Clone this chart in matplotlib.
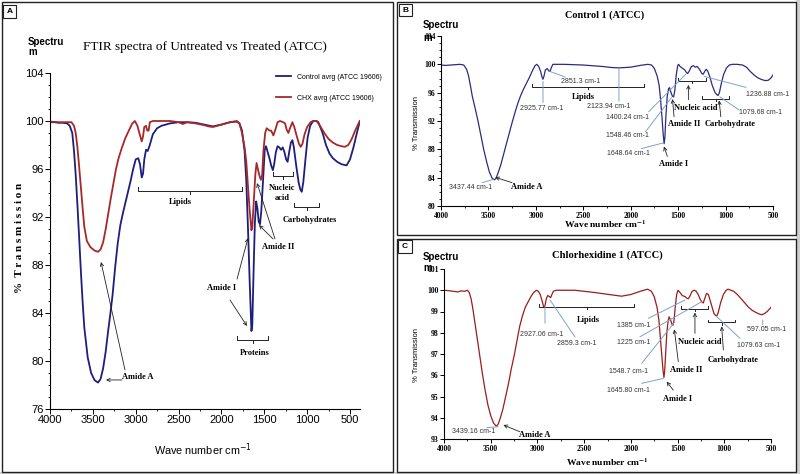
import matplotlib
matplotlib.use('Agg')
import matplotlib.pyplot as plt
from matplotlib.patches import Rectangle
from matplotlib.ticker import MultipleLocator
from matplotlib import font_manager

# ---------------- data ----------------
wn_a_ctrl = [4000, 3950, 3900, 3850, 3800, 3770, 3740, 3720, 3700, 3680, 3660, 3640, 3620, 3600,
             3560, 3520, 3480, 3440, 3410, 3380, 3350, 3320, 3300, 3270, 3240, 3210, 3180, 3150,
             3100, 3060, 3030, 3000, 2970, 2950, 2930, 2915, 2900, 2880, 2860, 2840, 2800, 2750,
             2700, 2600, 2500, 2400, 2300, 2200, 2100, 2000, 1900, 1820, 1790, 1760, 1730, 1710,
             1690, 1670, 1650, 1640, 1625, 1610, 1595, 1580, 1565, 1550, 1535, 1515, 1495, 1480,
             1460, 1440, 1420, 1400, 1385, 1365, 1345, 1325, 1305, 1285, 1265, 1245, 1228, 1210,
             1190, 1172, 1155, 1130, 1100, 1080, 1063, 1045, 1020, 995, 965, 930, 890, 870, 820,
             780, 740, 700, 650, 600, 540, 500, 460, 420, 385]
tr_a_ctrl = [99.9, 99.9, 99.85, 99.85, 99.8, 99.6, 99.0, 97.5, 95.5, 93.0, 90.3, 87.5, 85.0, 82.8,
             80.3, 79.0, 78.4, 78.2, 78.5, 79.4, 80.8, 82.6, 83.7, 85.5, 87.8, 89.8, 91.3, 92.3,
             93.8, 95.0, 96.0, 96.8, 96.9, 96.4, 95.3, 95.6, 96.8, 97.6, 97.5, 97.9, 98.9, 99.4,
             99.6, 99.8, 99.9, 99.9, 99.85, 99.7, 99.55, 99.7, 99.9, 99.95, 99.8, 99.2, 97.5, 95.0,
             91.0, 86.5, 82.5, 83.0, 87.5, 91.5, 93.3, 92.7, 91.6, 91.4, 92.5, 95.0, 97.6, 97.9,
             97.4, 96.9, 96.3, 95.9, 96.4, 97.4, 97.9, 97.8, 97.6, 97.8, 97.4, 96.8, 96.6, 97.4,
             98.2, 98.4, 97.8, 96.4, 94.9, 94.3, 94.1, 94.9, 96.8, 98.6, 99.6, 100.0, 100.0, 99.9, 99.0,
             98.0, 97.3, 96.9, 96.6, 96.4, 96.3, 96.8, 97.8, 99.0, 100.0]

wn_a_chx = [4000, 3900, 3800, 3750, 3720, 3700, 3680, 3660, 3640, 3620, 3600, 3570, 3530, 3480,
            3440, 3410, 3380, 3350, 3320, 3290, 3260, 3230, 3200, 3160, 3120, 3080, 3040, 3010,
            2980, 2950, 2930, 2915, 2900, 2880, 2865, 2850, 2835, 2800, 2600, 2500, 2450, 2400,
            2300, 2200, 2150, 2100, 2000, 1900, 1820, 1790, 1760, 1730, 1710, 1690, 1670, 1650,
            1640, 1625, 1605, 1590, 1575, 1555, 1540, 1525, 1510, 1490, 1472, 1440, 1420, 1394,
            1370, 1345, 1317, 1280, 1258, 1240, 1219, 1200, 1172, 1150, 1120, 1095, 1075, 1055,
            1030, 1000, 960, 930, 890, 850, 800, 750, 700, 650, 600, 560, 520, 480, 440, 400, 385]
tr_a_chx = [99.95, 99.9, 99.9, 99.9, 99.6, 99.0, 97.8, 96.2, 94.5, 92.8, 91.2, 90.0, 89.5, 89.2,
            89.1, 89.3, 89.9, 91.0, 92.3, 93.6, 94.8, 96.0, 96.9, 97.8, 98.6, 99.2, 99.8, 100.0,
            99.6, 98.8, 98.3, 98.7, 99.5, 99.6, 99.2, 99.2, 99.9, 100.0, 100.0, 99.9, 99.75, 99.9,
            99.8, 99.65, 99.55, 99.5, 99.7, 99.9, 100.0, 99.8, 99.0, 97.8, 96.6, 94.5, 92.5, 90.9,
            91.2, 93.0, 95.5, 96.5, 96.0, 95.4, 95.1, 95.5, 97.5, 99.0, 99.4, 99.2, 99.2, 98.8,
            99.3, 99.9, 100.0, 99.9, 99.8, 99.3, 99.0, 99.4, 99.9, 99.5, 98.7, 98.1, 97.85, 98.1,
            98.9, 99.5, 99.9, 100.0, 100.0, 99.6, 99.0, 98.5, 98.2, 98.0, 97.9, 97.85, 98.0, 98.5, 99.2, 99.8, 100.0]

wn_b = [4000, 3950, 3900, 3850, 3800, 3760, 3730, 3710, 3690, 3670, 3640, 3610, 3580, 3550, 3520,
        3490, 3460, 3437, 3420, 3400, 3370, 3340, 3310, 3280, 3250, 3220, 3190, 3160, 3130, 3100,
        3070, 3040, 3010, 2990, 2970, 2950, 2935, 2925, 2915, 2900, 2880, 2865, 2851, 2835, 2820,
        2700, 2500, 2300, 2200, 2124, 2000, 1900, 1820, 1780, 1750, 1720, 1700, 1685, 1670, 1660,
        1648, 1640, 1630, 1615, 1600, 1590, 1575, 1560, 1548, 1535, 1520, 1505, 1495, 1480, 1460,
        1430, 1410, 1400, 1385, 1360, 1340, 1320, 1300, 1275, 1250, 1236, 1220, 1205, 1190, 1165,
        1140, 1110, 1090, 1079, 1065, 1045, 1020, 990, 960, 930, 880, 820, 780, 740, 700, 660,
        620, 580, 550, 520, 500]
tr_b = [99.9, 99.85, 99.9, 99.95, 100.0, 99.9, 99.3, 98.4, 97.0, 95.5, 93.8, 92.0, 90.0, 88.0, 86.3,
        84.8, 83.9, 83.7, 83.9, 84.6, 85.8, 87.3, 88.8, 90.3, 91.8, 93.2, 94.5, 95.6, 96.5, 97.3,
        98.1, 99.0, 99.8, 100.0, 99.7, 99.0, 98.2, 97.9, 98.3, 99.2, 99.4, 99.1, 99.0, 99.6, 100.0,
        100.0, 99.9, 99.7, 99.55, 99.5, 99.6, 99.85, 100.0, 99.9, 99.4, 98.3, 97.0, 95.0, 92.5, 90.5,
        88.8, 89.6, 92.5, 95.5, 96.6, 96.7, 96.0, 95.5, 95.4, 96.3, 98.5, 99.8, 100.0, 99.7, 99.5,
        99.2, 98.8, 98.7, 99.0, 99.7, 99.8, 99.6, 99.7, 99.3, 98.7, 98.6, 99.0, 99.3, 99.1, 98.2,
        97.0, 96.0, 95.7, 95.6, 96.0, 97.3, 98.6, 99.5, 99.9, 100.0, 100.0, 99.9, 99.6, 99.0, 98.5, 98.1,
        97.85, 97.7, 97.75, 98.1, 98.5]

wn_c = [4000, 3950, 3900, 3850, 3820, 3780, 3750, 3730, 3710, 3690, 3670, 3650, 3630, 3610, 3590,
        3560, 3530, 3500, 3470, 3440, 3420, 3400, 3370, 3340, 3310, 3280, 3250, 3220, 3190, 3160,
        3130, 3100, 3070, 3040, 3010, 2990, 2970, 2950, 2935, 2927, 2918, 2905, 2890, 2870, 2859,
        2845, 2830, 2800, 2600, 2400, 2200, 2100, 2000, 1900, 1820, 1780, 1750, 1720, 1700, 1685,
        1670, 1655, 1646, 1638, 1628, 1615, 1600, 1590, 1575, 1560, 1549, 1538, 1525, 1510, 1495,
        1475, 1450, 1420, 1400, 1385, 1370, 1345, 1320, 1300, 1280, 1255, 1240, 1225, 1210, 1190,
        1170, 1150, 1130, 1110, 1090, 1079, 1065, 1040, 1010, 980, 960, 930, 900, 860, 820, 780,
        740, 700, 660, 620, 597, 570, 540, 520, 500]
tr_c = [100.0, 99.98, 99.95, 99.92, 99.97, 99.95, 100.0, 99.9, 99.6, 99.1, 98.5, 97.9, 97.3, 96.7, 96.1,
        95.3, 94.6, 94.1, 93.75, 93.6, 93.7, 93.95, 94.4, 95.0, 95.6, 96.3, 96.9, 97.6, 98.3, 98.8,
        99.2, 99.45, 99.7, 99.9, 100.0, 99.95, 99.8, 99.5, 99.25, 99.2, 99.3, 99.6, 99.75, 99.7, 99.65,
        99.8, 99.95, 100.0, 100.0, 99.9, 99.78, 99.72, 99.8, 99.95, 100.05, 99.95, 99.7, 99.2, 98.6, 97.8,
        97.0, 96.2, 95.9, 96.2, 97.0, 98.0, 98.6, 98.75, 98.6, 98.4, 98.35, 98.6, 99.2, 99.8, 100.0,
        99.9, 99.75, 99.7, 99.62, 99.6, 99.7, 99.95, 100.0, 99.95, 99.8, 99.55, 99.45, 99.4, 99.6, 99.85,
        99.8, 99.5, 99.2, 98.9, 98.8, 98.8, 98.95, 99.4, 99.8, 100.0, 100.05, 100.0, 99.95, 99.8, 99.6, 99.4,
        99.2, 99.05, 98.95, 98.87, 98.85, 98.9, 99.0, 99.1, 99.2]

legend_labels = ['Control avrg (ATCC 19606)', 'CHX avrg (ATCC 19606)']

# annotations: (text, x, y)
labels_a = [('Lipids', 2483, 93.25), ('Nucleic\nacid', 1293, 94.0), ('Carbohydrates', 967, 91.75),
            ('Proteins', 1608, 80.67), ('Amide II', 1340, 89.5), ('Amide I', 1993, 86.08),
            ('Amide A', 2973, 78.67)]
brackets_a = [(2973, 1760, 94.17), (1398, 1165, 95.42), (1153, 862, 92.83), (1818, 1457, 81.75)]
arrows_a = [((1398, 90.17), (1562, 91.33)), ((1375, 90.17), (1585, 94.83)),
            ((1818, 86.83), (1690, 90.25)), ((1900, 85.08), (1702, 82.92)),
            ((3160, 78.42), (3347, 78.42)), ((3125, 79.25), (3405, 88.25))]

nums_b = [('2851.3 cm-1', 2530, 97.6), ('2925.77 cm-1', 2935, 93.8), ('2123.94 cm-1', 2231, 94.1),
          ('1400.24 cm-1', 2037, 92.5), ('1548.46 cm-1', 2037, 89.9), ('1648.64 cm-1', 2019, 87.4),
          ('1079.68 cm-1', 630, 93.2), ('1236.88 cm-1', 560, 95.8), ('3437.44 cm-1', 3693, 82.6)]
labels_b = [('Lipids', 2495, 95.4), ('Amide I', 1550, 85.9), ('Amide II', 1438, 91.6),
            ('Nucleic acid', 1314, 93.8), ('Carbohydrate', 952, 91.6), ('Amide A', 3094, 82.7)]
leaders_b = [((2851, 99.0), (2690, 98.2)), ((2925, 97.6), (2925, 94.6)), ((2124, 99.3), (2124, 94.8)),
             ((1811, 93.3), (1420, 98.6)), ((1843, 90.5), (1570, 95.3)), ((1888, 88.1), (1660, 88.9)),
             ((857, 93.55), (1060, 95.4)), ((785, 96.75), (1226, 98.3)), ((3563, 83.3), (3450, 83.75))]
arrows_b = [((1614, 87.0), (1650, 88.4)), ((1543, 92.6), (1560, 95.1)), ((1392, 95.0), (1392, 97.1)),
            ((1050, 92.6), (1068, 94.9)), ((3252, 83.3), (3429, 84.05))]
brackets_b = [(3041, 1861, 96.85), (1497, 1208, 97.7), (1244, 963, 95.1)]

nums_c = [('2927.06 cm-1', 2955, 97.94), ('2859.3 cm-1', 2580, 97.5), ('1385 cm-1', 1974, 98.36),
          ('1225 cm-1', 1974, 97.53), ('1548.7 cm-1', 2027, 96.17), ('1645.80 cm-1', 2027, 95.3),
          ('1079.63 cm-1', 636, 97.42), ('597.05 cm-1', 546, 98.13), ('3439.16 cm-1', 3686, 93.34)]
labels_c = [('Lipids', 2455, 98.6), ('Amide I', 1499, 94.9), ('Amide II', 1403, 96.25),
            ('Nucleic acid', 1260, 97.58), ('Carbohydrate', 903, 96.7), ('Amide A', 3026, 93.19)]
leaders_c = [((2919, 99.2), (2919, 98.45)), ((2598, 97.8), (2865, 99.54)), ((1813, 98.68), (1421, 99.54)),
             ((1902, 97.81), (1242, 99.46)), ((1884, 96.56), (1528, 98.52)), ((1884, 95.62), (1652, 95.85)),
             ((832, 97.74), (1081, 98.76)), ((589, 98.6), (589, 98.37)), ((3543, 93.53), (3419, 93.58))]
arrows_c = [((1546, 95.3), (1617, 95.7)), ((1492, 96.64), (1535, 98.16)), ((1314, 97.97), (1314, 98.95)),
            ((1010, 97.19), (1028, 98.3)), ((3187, 93.34), (3365, 93.66))]
brackets_c = [(2983, 1963, 99.23), (1463, 1171, 99.12), (1171, 885, 98.49)]

# ---------------- styles ----------------
BLUE_A = '#1e1e7c'
RED_A = '#a82828'
BLUE_B = '#2c2c7e'
RED_C = '#9c1c1c'
LEAD = '#7da2cc'
SERIF = 'Liberation Serif'
SANS = 'Liberation Sans'
_names = {f.name for f in font_manager.fontManager.ttflist}
HAS_NARROW = 'Liberation Sans Narrow' in _names
NARROW = 'Liberation Sans Narrow' if HAS_NARROW else SANS

W, H = 800, 474
fig = plt.figure(figsize=(8, 4.74), dpi=100)


def ax_px(x0, y0, x1, y1):
    return fig.add_axes([x0 / W, 1 - y1 / H, (x1 - x0) / W, (y1 - y0) / H])


def ftxt(x, y, s, **kw):
    return fig.text(x / W, 1 - y / H, s, **kw)


def frame(x0, y0, x1, y1, lw=1.0, ec='#222222'):
    fig.patches.append(Rectangle((x0 / W, 1 - y1 / H), (x1 - x0) / W, (y1 - y0) / H,
                                 transform=fig.transFigure, fill=False, ec=ec, lw=lw))


def style_axes(ax, tickfont, tsize, tweight):
    for s in ('top', 'right'):
        ax.spines[s].set_visible(False)
    for s in ('left', 'bottom'):
        ax.spines[s].set_linewidth(0.8)
    ax.tick_params(which='major', direction='out', length=3, width=0.7, pad=1)
    ax.tick_params(which='minor', direction='out', length=1.6, width=0.6)
    for lab in ax.get_xticklabels() + ax.get_yticklabels():
        lab.set_fontfamily(tickfont)
        lab.set_fontsize(tsize)
        lab.set_fontweight(tweight)


def draw_brackets(ax, brs, h, color='#222222'):
    for x1, x2, y in brs:
        xm = (x1 + x2) / 2
        ax.plot([x1, x1, x2, x2], [y + h, y, y, y + h], color=color, lw=0.7, clip_on=False)
        ax.plot([xm, xm], [y, y - h * 0.8], color=color, lw=0.7, clip_on=False)


def draw_arrows(ax, arrs):
    for tail, head in arrs:
        ax.annotate('', xy=head, xytext=tail,
                    arrowprops=dict(arrowstyle='->', lw=0.6, color='#222222',
                                    shrinkA=0, shrinkB=0, mutation_scale=6))


def draw_leaders(ax, leads):
    for p, q in leads:
        ax.annotate('', xy=q, xytext=p,
                    arrowprops=dict(arrowstyle='-', lw=0.7, color=LEAD, shrinkA=0, shrinkB=0))


# ---------------- frames ----------------
fig.patches.append(Rectangle((796 / W, 0), 4 / W, 1, transform=fig.transFigure, color='#cfcfcf', lw=0))
fig.patches.append(Rectangle((0, 0), 1, 2 / H, transform=fig.transFigure, color='#cfcfcf', lw=0))
frame(1.5, 2, 393, 472)
frame(397, 2, 796, 235)
frame(397, 239, 796, 472)
frame(3, 5, 16, 18, lw=0.8)
frame(399, 4, 412, 16, lw=0.8)
frame(398, 240, 412, 253, lw=0.8)
ftxt(9.5, 11.5, 'A', ha='center', va='center', fontsize=6, weight='bold', family=SANS)
ftxt(405.5, 10, 'B', ha='center', va='center', fontsize=6, weight='bold', family=SANS)
ftxt(405, 246.5, 'C', ha='center', va='center', fontsize=6, weight='bold', family=SANS)

# ---------------- panel A ----------------
axA = ax_px(50, 73, 360.3, 409)
axA.plot(wn_a_ctrl, tr_a_ctrl, color=BLUE_A, lw=1.3, label=legend_labels[0])
axA.plot(wn_a_chx, tr_a_chx, color=RED_A, lw=1.3, label=legend_labels[1])
axA.set_xlim(4000, 380)
axA.set_ylim(76, 104)
axA.xaxis.set_major_locator(MultipleLocator(500))
axA.xaxis.set_minor_locator(MultipleLocator(250))
axA.yaxis.set_major_locator(MultipleLocator(4))
axA.yaxis.set_minor_locator(MultipleLocator(1))
style_axes(axA, NARROW, 8.5 if HAS_NARROW else 8, 'normal')
axA.tick_params(which='major', length=3.5)
leg_size = 6.2 if HAS_NARROW else 5.0
leg = axA.legend(loc='upper left', bbox_to_anchor=(0.728, 0.998), frameon=False,
                 prop={'family': NARROW, 'size': leg_size}, handlelength=15 / (leg_size * 1.389),
                 handletextpad=6 / (leg_size * 1.389),
                 labelspacing=(21 - leg_size * 1.389) / (leg_size * 1.389), borderpad=0, borderaxespad=0)
for t in labels_a:
    axA.text(t[1], t[2], t[0], ha='center', va='center', family=SERIF, weight='bold',
             fontsize=6, linespacing=1.25)
draw_brackets(axA, brackets_a, 0.33)
draw_arrows(axA, arrows_a)

ftxt(205, 47, 'FTIR spectra of Untreated vs Treated (ATCC)', ha='center', va='center',
     family=SERIF, fontsize=9.5)
ftxt(28, 42, 'Spectru', ha='left', va='center', family=SANS, weight='bold', fontsize=7)
ftxt(28, 52, 'm', ha='left', va='center', family=SANS, weight='bold', fontsize=7)
ftxt(20, 238, '%  T r a n s m i s s i o n', ha='center', va='center', rotation=90,
     family=SERIF, weight='bold', fontsize=8)
ftxt(203, 450, r'Wave number cm$^{-1}$', ha='center', va='center', family=NARROW,
     fontsize=9.5 if HAS_NARROW else 7.8, math_fontfamily='dejavusans')

# ---------------- panel B ----------------
axB = ax_px(441, 36, 773, 206)
axB.plot(wn_b, tr_b, color=BLUE_B, lw=0.9)
axB.set_xlim(4000, 500)
axB.set_ylim(80, 104)
axB.xaxis.set_major_locator(MultipleLocator(500))
axB.xaxis.set_minor_locator(MultipleLocator(250))
axB.yaxis.set_major_locator(MultipleLocator(4))
axB.yaxis.set_minor_locator(MultipleLocator(1))
style_axes(axB, SERIF, 5.5, 'bold')
draw_leaders(axB, leaders_b)
for t in nums_b:
    axB.text(t[1], t[2], t[0], ha='center', va='center', family=SANS, fontsize=5, color='#333333')
for t in labels_b:
    axB.text(t[1], t[2], t[0], ha='center', va='center', family=SERIF, weight='bold', fontsize=6)
draw_brackets(axB, brackets_b, 0.42)
draw_arrows(axB, arrows_b)
ftxt(605, 15, 'Control 1 (ATCC)', ha='center', va='center', family=SERIF, weight='bold', fontsize=7.3)
ftxt(423, 25, 'Spectru', ha='left', va='center', family=SANS, weight='bold', fontsize=7)
ftxt(423, 38, 'm', ha='left', va='center', family=SANS, weight='bold', fontsize=7)
ftxt(416, 123, '% Transmission', ha='center', va='center', rotation=90, family=SANS, fontsize=5.5)
ftxt(605, 224, r'Wave number cm$^{\mathbf{-1}}$', ha='center', va='center', family=SERIF,
     weight='bold', fontsize=6.8, math_fontfamily='stix')

# ---------------- panel C ----------------
axC = ax_px(444, 269, 771, 439)
axC.plot(wn_c, tr_c, color=RED_C, lw=0.9)
axC.set_xlim(4000, 500)
axC.set_ylim(93, 101)
axC.xaxis.set_major_locator(MultipleLocator(500))
axC.xaxis.set_minor_locator(MultipleLocator(250))
axC.yaxis.set_major_locator(MultipleLocator(1))
style_axes(axC, SERIF, 5.5, 'bold')
draw_leaders(axC, leaders_c)
for t in nums_c:
    axC.text(t[1], t[2], t[0], ha='center', va='center', family=SANS, fontsize=5, color='#333333')
for t in labels_c:
    axC.text(t[1], t[2], t[0], ha='center', va='center', family=SERIF, weight='bold', fontsize=6)
draw_brackets(axC, brackets_c, 0.13)
draw_arrows(axC, arrows_c)
ftxt(607, 255, 'Chlorhexidine 1 (ATCC)', ha='center', va='center', family=SERIF, weight='bold',
     fontsize=7.6)
ftxt(423, 257, 'Spectru', ha='left', va='center', family=SANS, weight='bold', fontsize=7)
ftxt(423, 268, 'm', ha='left', va='center', family=SANS, weight='bold', fontsize=7)
ftxt(417, 355, '% Transmission', ha='center', va='center', rotation=90, family=SANS, fontsize=5.5)
ftxt(607, 462, r'Wave number cm$^{\mathbf{-1}}$', ha='center', va='center', family=SERIF,
     weight='bold', fontsize=6.8, math_fontfamily='stix')

fig.savefig('out.png', dpi=100)
